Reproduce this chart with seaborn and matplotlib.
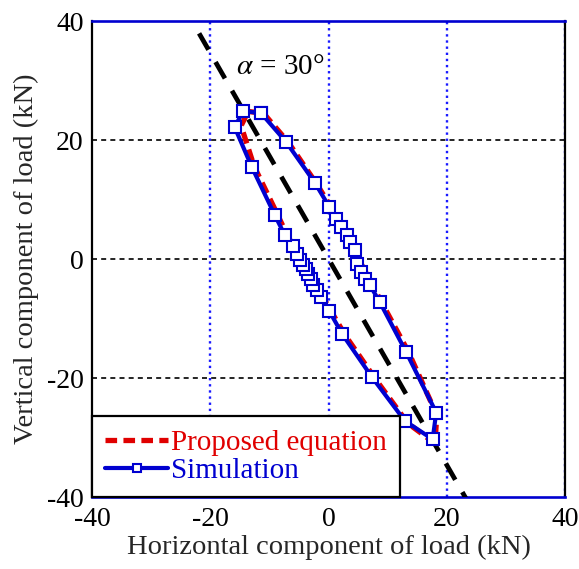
import matplotlib
matplotlib.use("Agg")
import matplotlib.pyplot as plt
import numpy as np
import pandas as pd
import seaborn as sns

# Simulated load path (kN), in loading order
sim_x = [-11.4, -7.2, -2.3, 0.1, 1.3, 2.1, 3.1, 3.6, 4.5, 4.8, 5.4, 6.2, 7.0,
         8.7, 13.1, 18.2, 17.6, 12.9, 7.3, 2.3, 0.1, -1.2, -2.0, -2.6, -3.0,
         -3.4, -3.8, -4.4, -4.8, -5.4, -6.1, -7.4, -9.1, -13.0, -15.9, -14.4, -11.4]
sim_y = [24.5, 19.7, 12.8, 8.8, 6.7, 5.4, 4.0, 2.9, 1.6, -0.9, -2.2, -3.4, -4.4,
         -7.3, -15.6, -25.8, -30.3, -27.2, -19.8, -12.6, -8.7, -6.4, -5.2, -4.3, -3.4,
         -2.5, -1.7, -1.0, -0.2, 0.8, 2.2, 4.0, 7.4, 15.5, 22.2, 24.9, 24.5]

# Proposed equation (kN)
prop_x = [-11.0, -6.8, -2.0, 0.5, 8.6, 13.5, 18.3, 18.0, 13.4, 7.8, 2.8, 0.5, -7.0, -8.7, -12.6, -14.8, -13.6, -11.0]
prop_y = [24.5, 19.6, 12.6, 8.6, -6.6, -15.6, -26.2, -31.0, -27.6, -20.0, -12.8, -8.9, 4.0, 7.6, 15.6, 22.4, 24.8, 24.5]

# Reference line at alpha = 30 deg: y = -x * tan(60 deg)
alpha_x = [-21.9, 23.5]
alpha_y = [-v * np.tan(np.radians(60)) for v in alpha_x]

sns.set_style("white")
plt.rcParams["font.family"] = ["Liberation Serif", "DejaVu Serif"]
plt.rcParams["mathtext.fontset"] = "stix"

fig = plt.figure(figsize=(5.79, 5.69), dpi=100)
ax = fig.add_axes([0.159, 0.1265, 0.817, 0.8365])

sim = pd.DataFrame({"x": sim_x, "y": sim_y})
prop = pd.DataFrame({"x": prop_x, "y": prop_y})
ref = pd.DataFrame({"x": alpha_x, "y": alpha_y})

sns.lineplot(data=ref, x="x", y="y", sort=False, estimator=None, ax=ax,
             color="black", lw=3.4, zorder=3)
ax.lines[-1].set_dashes([4, 3])

sns.lineplot(data=prop, x="x", y="y", sort=False, estimator=None, ax=ax,
             color="#e00000", lw=3.8, zorder=4)
ax.lines[-1].set_dashes([2.2, 1.2])

sns.lineplot(data=sim, x="x", y="y", sort=False, estimator=None, ax=ax,
             color="#0000d0", lw=3.0, marker="s", markersize=8,
             markerfacecolor="white", markeredgecolor="#0000d0",
             markeredgewidth=1.5, zorder=5)

ax.text(-15.6, 32.2, r"$\alpha$ = 30°", fontsize=21, color="black",
        ha="left", va="center", zorder=6)

ax.set_xlim(-40, 40)
ax.set_ylim(-40, 40)
ax.set_xticks([-40, -20, 0, 20, 40])
ax.set_yticks([-40, -20, 0, 20, 40])
ax.set_xticklabels(["-40", "-20", "0", "20", "40"])
ax.set_yticklabels(["-40", "-20", "0", "20", "40"])
ax.tick_params(axis="both", labelsize=20, length=0, colors="black")
ax.tick_params(axis="x", pad=7)
ax.tick_params(axis="y", pad=6)

# grid: blue dotted verticals, black dashed horizontals
for xv in [-20, 0, 20, 40]:
    ax.axvline(xv, color="#1a1aff", lw=1.7, ls=(0, (1, 1.6)), zorder=1)
for yv in [-20, 0, 20]:
    ax.axhline(yv, color="black", lw=1.2, ls=(0, (3, 2.5)), zorder=1)

for side in ["left", "right"]:
    ax.spines[side].set_color("black")
    ax.spines[side].set_linewidth(1.6)
ax.spines["top"].set_color("#0000d0")
ax.spines["top"].set_linewidth(1.9)
ax.spines["bottom"].set_color("#0000d0")
ax.spines["bottom"].set_linewidth(1.9)

ax.set_xlabel("Horizontal component of load (kN)", fontsize=20.5, labelpad=2)
ax.set_ylabel("Vertical component of load (kN)", fontsize=20.5, labelpad=6)

h_prop, = ax.plot([], [], color="#e00000", lw=3.8, dashes=[2.2, 1.2])
h_sim, = ax.plot([], [], color="#0000d0", lw=3.0, marker="s", markersize=8,
                 markerfacecolor="white", markeredgecolor="#0000d0",
                 markeredgewidth=1.5)
leg = ax.legend([h_prop, h_sim], ["Proposed equation", "Simulation"],
                loc="lower left", bbox_to_anchor=(0, 0), borderaxespad=0,
                fontsize=21, frameon=True, fancybox=False, framealpha=1,
                edgecolor="black", handlelength=2.15, handletextpad=0.12,
                labelspacing=0.05, borderpad=0.45, markerscale=0.75)
leg.get_frame().set_linewidth(1.6)
leg.set_zorder(10)
leg.get_texts()[0].set_color("#e00000")
leg.get_texts()[1].set_color("#0000d0")

fig.savefig("out.png", dpi=100)
